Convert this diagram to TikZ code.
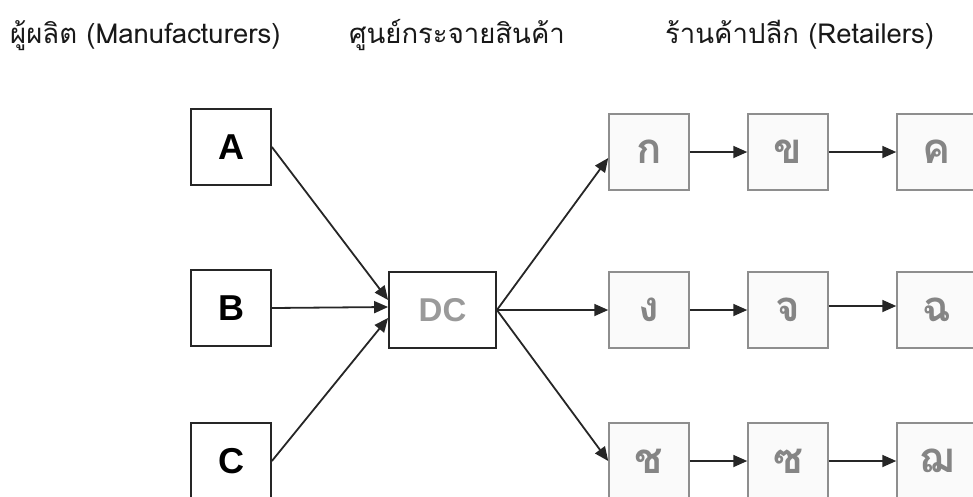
\documentclass[tikz,border=0pt]{standalone}
\usepackage{fontspec}
\usetikzlibrary{arrows.meta}
\newfontfamily\thaifont[Script=Thai]{Loma}
\newfontfamily\boxfont{Liberation Sans}
\definecolor{retailfill}{HTML}{FAFAFA}
\definecolor{retailborder}{HTML}{8E8E8E}
\definecolor{retailtext}{HTML}{858585}
\definecolor{dctext}{HTML}{9A9A9A}
\tikzset{
  title/.style={anchor=base west, inner sep=0pt, font=\thaifont\fontsize{27.5}{32}\selectfont, text=black!90},
  mfr/.style={draw=black!85, line width=1.8pt, fill=white, minimum width=80pt, minimum height=76pt, inner sep=0pt, font=\boxfont\bfseries\fontsize{36}{40}\selectfont},
  dcbox/.style={draw=black!85, line width=1.8pt, fill=white, minimum width=107pt, minimum height=76pt, inner sep=0pt, font=\boxfont\bfseries\fontsize{33}{40}\selectfont, text=dctext},
  shop/.style={draw=retailborder, line width=1.5pt, fill=retailfill, minimum width=80pt, minimum height=76pt, inner sep=0pt, font=\thaifont\bfseries\fontsize{42}{48}\selectfont, text=retailtext},
  flow/.style={draw=black!85, line width=1.8pt, -{Triangle[length=14pt,width=12pt]}},
}
\begin{document}
\begin{tikzpicture}[x=1pt, y=-1pt]
\useasboundingbox (0,0) rectangle (973,496);
\begin{scope}
\clip (0,0) rectangle (973,496);
% titles
\node[title] (t1) at (10,43) {ผู้ผลิต (Manufacturers)};
\node[title] (t2) at (349,43) {ศูนย์กระจายสินค้า};
\node[title] (t3) at (665,43) {ร้านค้าปลีก (Retailers)};
% manufacturers
\node[mfr] (A) at (231,147) {A};
\node[mfr] (B) at (231,308) {B};
\node[mfr] (C) at (231,461) {C};
% DC
\node[dcbox] (DC) at (442.5,310) {DC};
% retailers
\node[shop] (k1) at (649,152) {ก};
\node[shop] (k2) at (788,152) {ข};
\node[shop] (k3) at (937,152) {ค};
\node[shop] (k4) at (649,310) {ง};
\node[shop] (k5) at (788,310) {จ};
\node[shop] (k6) at (937,310) {ฉ};
\node[shop] (k7) at (649,461) {ช};
\node[shop] (k8) at (788,461) {ซ};
\node[shop] (k9) at (937,461) {ฌ};
% arrows into DC
\draw[flow] (A.east) -- ([yshift=10pt]DC.west);
\draw[flow] (B.east) -- ([yshift=3pt]DC.west);
\draw[flow] (C.east) -- ([yshift=-8pt]DC.west);
% arrows out of DC
\draw[flow] (DC.east) -- ([yshift=-6pt]k1.west);
\draw[flow] (DC.east) -- (k4.west);
\draw[flow] (DC.east) -- (k7.west);
% chains
\draw[flow] (k1.east) -- (k2.west);
\draw[flow] (k2.east) -- (k3.west);
\draw[flow] (k4.east) -- (k5.west);
\draw[flow] ([yshift=4pt]k5.east) -- ([yshift=4pt]k6.west);
\draw[flow] (k7.east) -- (k8.west);
\draw[flow] (k8.east) -- (k9.west);
\end{scope}
\end{tikzpicture}
\end{document}
